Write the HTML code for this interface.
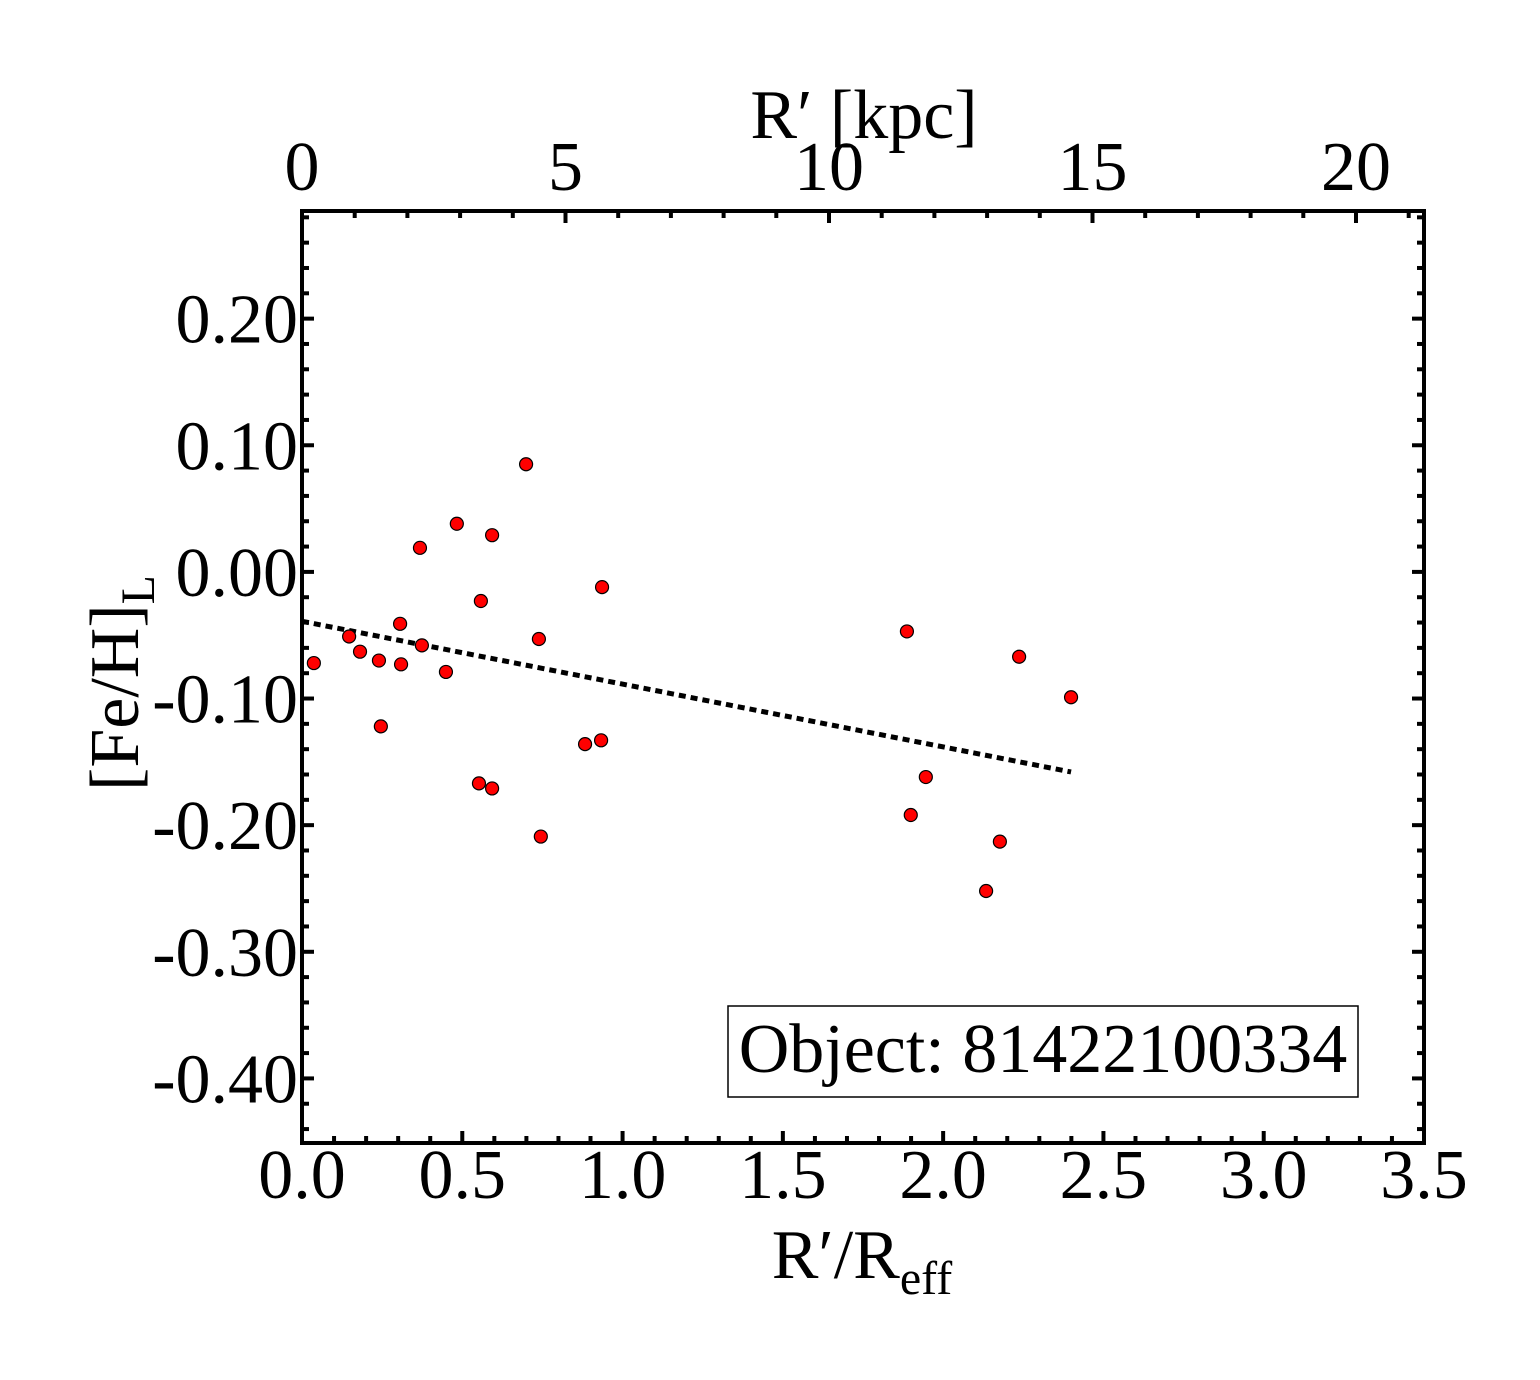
<!DOCTYPE html>
<html><head><meta charset="utf-8"><style>
html,body{margin:0;padding:0;background:#fff;}
svg text{font-family:"Liberation Serif",serif;fill:#000;}
</style></head><body>
<svg id="chart" width="1540" height="1375" xmlns="http://www.w3.org/2000/svg">
<g id="ticks"></g>
<g id="marks"></g>
<rect x="302" y="211" width="1122" height="932" fill="none" stroke="#000" stroke-width="4"/>
<text x="864" y="138" font-size="70" text-anchor="middle">R′ [kpc]</text>
<text x="862" y="1278" font-size="70" text-anchor="middle">R′/R<tspan font-size="48" dy="16">eff</tspan></text>
<text transform="translate(138,683) rotate(-90)" font-size="70" text-anchor="middle">[Fe/H]<tspan font-size="48" dy="16">L</tspan></text>
<rect x="728" y="1006" width="630" height="91" fill="#fff" stroke="#000" stroke-width="1.5"/>
<text x="1043" y="1072" font-size="70" text-anchor="middle">Object: 81422100334</text>
</svg>
<script>
const xs = [0.037,0.147,0.181,0.240,0.246,0.306,0.309,0.368,0.374,0.449,0.483,0.558,0.552,0.593,0.593,0.699,0.739,0.745,0.883,0.933,0.936,1.887,1.899,1.946,2.134,2.177,2.237,2.399];
const ys = [-0.072,-0.051,-0.063,-0.070,-0.122,-0.041,-0.073,0.019,-0.058,-0.079,0.038,-0.023,-0.167,0.029,-0.171,0.085,-0.053,-0.209,-0.136,-0.133,-0.012,-0.047,-0.192,-0.162,-0.252,-0.213,-0.067,-0.099];
const fitX = [0.0, 2.399];
const fitY = [-0.039, -0.158];
const xTickLabels = ["0.0","0.5","1.0","1.5","2.0","2.5","3.0","3.5"];
const yTickLabels = ["0.20","0.10","0.00","-0.10","-0.20","-0.30","-0.40"];
const kpcTickLabels = ["0","5","10","15","20"];

const L=302,R=1424,T=211,B=1143;
const X0=0,X1=3.5,Y0=-0.451,Y1=0.285,K1=(R-L)/52.7;
const sx=v=>L+(v-X0)/(X1-X0)*(R-L);
const sy=v=>B-(v-Y0)/(Y1-Y0)*(B-T);
const sk=v=>L+v/K1*(R-L);
const NS="http://www.w3.org/2000/svg";
function mk(tag,attrs,parent){const e=document.createElementNS(NS,tag);for(const k in attrs)e.setAttribute(k,attrs[k]);parent.appendChild(e);return e;}
const tg=document.getElementById('ticks'), mg=document.getElementById('marks');
for(let i=0;i<=35;i++){const x=sx(i*0.1);const len=i%5===0?12:7;
 const t=mk('line',{x1:x,x2:x,y1:B,y2:B-len,stroke:'#000','stroke-width':4},tg);
 
 }
xTickLabels.forEach(s=>{const t=mk('text',{x:sx(parseFloat(s)),y:1198,'font-size':70,'text-anchor':'middle'},tg);t.textContent=s;
 
 });
for(let i=0;i<=21;i++){const x=sk(i);const len=i%5===0?12:7;
 const t=mk('line',{x1:x,x2:x,y1:T,y2:T+len,stroke:'#000','stroke-width':4},tg);
 
 }
kpcTickLabels.forEach(s=>{const t=mk('text',{x:sk(parseFloat(s)),y:190,'font-size':70,'text-anchor':'middle'},tg);t.textContent=s;
 
 });
for(let i=-22;i<=14;i++){const v=i*0.02;if(v<Y0||v>Y1)continue;const y=sy(v);const len=(i%5===0)?12:7;
 const a=mk('line',{x1:L,x2:L+len,y1:y,y2:y,stroke:'#000','stroke-width':4},tg);
 
 
 const b=mk('line',{x1:R,x2:R-len,y1:y,y2:y,stroke:'#000','stroke-width':4},tg);
 
 }
yTickLabels.forEach(s=>{const t=mk('text',{x:298,y:sy(parseFloat(s))+24,'font-size':70,'text-anchor':'end'},tg);t.textContent=s;
 
 });
const fl=mk('line',{x1:sx(fitX[0]),y1:sy(fitY[0]),x2:sx(fitX[1]),y2:sy(fitY[1]),stroke:'#000','stroke-width':5,'stroke-dasharray':'7,5'},mg);


xs.forEach((x,i)=>{const c=mk('circle',{cx:sx(x),cy:sy(ys[i]),r:6.5,fill:'#ff0000',stroke:'#000','stroke-width':1.2},mg);
 
 });
</script>
</body></html>
